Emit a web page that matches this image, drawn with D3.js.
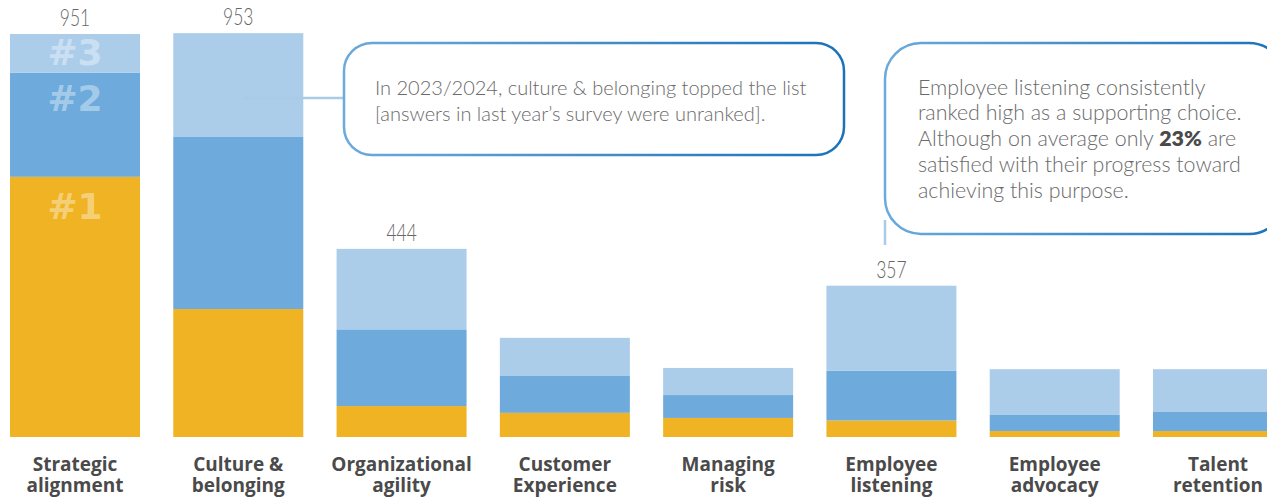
<!DOCTYPE html>
<html>
<head>
<meta charset="utf-8">
<script src="https://cdn.jsdelivr.net/npm/d3@7"></script>
<style>
  html, body { margin: 0; padding: 0; background: #fff; overflow: hidden; }
  svg { display: block; }
</style>
</head>
<body>
<svg id="chart" width="1267" height="499"></svg>
<script>
// Purposes, ranked #1 / #2 / #3 by respondents
const categories = [
  ["Strategic", "alignment"],
  ["Culture &", "belonging"],
  ["Organizational", "agility"],
  ["Customer", "Experience"],
  ["Managing", "risk"],
  ["Employee", "listening"],
  ["Employee", "advocacy"],
  ["Talent", "retention"]
];
const rank1 = [614, 302, 73, 57, 45, 39, 14, 14];
const rank2 = [246, 406, 181, 87, 54, 117, 38, 45];
const rank3 = [91, 245, 190, 90, 64, 201, 108, 101];
// Totals printed above selected bars (null = no label)
const totalLabels = [951, 953, 444, null, null, 357, null, null];
const rankNames = ["#1", "#2", "#3"];

const colors = ["#EFB324", "#6EABDC", "#ABCDEA"];
const textGray = "#6a6a6a";
const labelGray = "#4a4a4a";
const lightFont = "Lato, 'Open Sans', sans-serif";

const svg = d3.select("#chart");
const baseY = 437;

const rows = categories.map((c, i) => ({
  key: i, name: c, r1: rank1[i], r2: rank2[i], r3: rank3[i],
  total: rank1[i] + rank2[i] + rank3[i], label: totalLabels[i]
}));

const x = d3.scaleBand()
  .domain(rows.map(d => d.key))
  .range([10, 1283])
  .paddingInner(0.2039)
  .paddingOuter(0);

const y = d3.scaleLinear()
  .domain([0, 951])
  .range([baseY, baseY - 403]);

const stack = d3.stack().keys(["r1", "r2", "r3"]);
const series = stack(rows);

// Gradient for callout borders
const defs = svg.append("defs");
const grad = defs.append("linearGradient")
  .attr("id", "calloutStroke")
  .attr("x1", "0%").attr("x2", "100%").attr("y1", "0%").attr("y2", "0%");
grad.append("stop").attr("offset", "0%").attr("stop-color", "#6aaadd");
grad.append("stop").attr("offset", "100%").attr("stop-color", "#1b72b8");

// Stacked bars
svg.append("g").selectAll("g")
  .data(series)
  .join("g")
  .attr("fill", (d, i) => colors[i])
  .selectAll("rect")
  .data(d => d)
  .join("rect")
  .attr("x", d => x(d.data.key))
  .attr("width", x.bandwidth())
  .attr("y", d => y(d[1]))
  .attr("height", d => y(d[0]) - y(d[1]));

// Rank markers inside the first bar, each near the top of its segment
const firstStack = series.map(s => s[0]);
svg.append("g").selectAll("text")
  .data(rankNames)
  .join("text")
  .attr("x", x(0) + x.bandwidth() / 2)
  .attr("y", (d, i) => y(firstStack[i][1]) + [42, 38, 31][i])
  .attr("text-anchor", "middle")
  .attr("font-family", "DejaVu Sans, sans-serif")
  .attr("font-weight", "bold")
  .attr("font-size", 36)
  .attr("fill", "#ffffff")
  .attr("fill-opacity", 0.4)
  .text(d => d);

// Totals above bars (light, narrow figures)
svg.append("g").selectAll("g")
  .data(rows.filter(d => d.label !== null))
  .join("g")
  .attr("transform", d => `translate(${x(d.key) + x.bandwidth() / 2},${y(d.label) - 8}) scale(0.76,1)`)
  .append("text")
  .attr("text-anchor", "middle")
  .attr("font-family", lightFont)
  .attr("font-weight", 300)
  .attr("font-size", 23)
  .attr("fill", "#666666")
  .text(d => d.label);

// Category labels (two lines)
const cat = svg.append("g").selectAll("text")
  .data(rows)
  .join("text")
  .attr("text-anchor", "middle")
  .attr("font-family", "'Open Sans', sans-serif")
  .attr("font-weight", "bold")
  .attr("font-size", 19)
  .attr("fill", labelGray);
cat.append("tspan").attr("x", d => x(d.key) + x.bandwidth() / 2).attr("y", 470.5).text(d => d.name[0]);
cat.append("tspan").attr("x", d => x(d.key) + x.bandwidth() / 2).attr("y", 491.5).text(d => d.name[1]);

// Callout 1: culture & belonging
const c1 = svg.append("g");
c1.append("line")
  .attr("x1", x(1) + x.bandwidth() / 2 + 4).attr("x2", 344)
  .attr("y1", 98).attr("y2", 98)
  .attr("stroke", "#a9cbe8").attr("stroke-width", 2.5);
c1.append("rect")
  .attr("x", 344).attr("y", 43).attr("width", 500).attr("height", 112)
  .attr("rx", 28).attr("ry", 28)
  .attr("fill", "#fff")
  .attr("stroke", "url(#calloutStroke)").attr("stroke-width", 2.5);
const t1 = c1.append("text")
  .attr("font-family", lightFont)
  .attr("font-weight", 300)
  .attr("font-size", 20)
  .attr("fill", textGray);
t1.append("tspan").attr("x", 375).attr("y", 94.5).text("In 2023/2024, culture & belonging topped the list");
t1.append("tspan").attr("x", 375).attr("y", 120.5).text("[answers in last year\u2019s survey were unranked].");

// Callout 2: employee listening
const c2 = svg.append("g");
c2.append("line")
  .attr("x1", 885).attr("x2", 885)
  .attr("y1", 220).attr("y2", 245)
  .attr("stroke", "#a9cbe8").attr("stroke-width", 2.5);
c2.append("rect")
  .attr("x", 885).attr("y", 43).attr("width", 400).attr("height", 191)
  .attr("rx", 36).attr("ry", 36)
  .attr("fill", "#fff")
  .attr("stroke", "url(#calloutStroke)").attr("stroke-width", 2.5);
const t2 = c2.append("text")
  .attr("font-family", lightFont)
  .attr("font-weight", 300)
  .attr("font-size", 21.4)
  .attr("fill", textGray);
const lines2 = [
  [{ t: "Employee listening consistently" }],
  [{ t: "ranked high as a supporting choice." }],
  [{ t: "Although on average only " }, { t: "23%", b: true }, { t: " are" }],
  [{ t: "satisfied with their progress toward" }],
  [{ t: "achieving this purpose." }]
];
lines2.forEach((parts, i) => {
  parts.forEach((p, j) => {
    const ts = t2.append("tspan").text(p.t);
    if (j === 0) ts.attr("x", 918).attr("y", 94.5 + i * 25.8);
    if (p.b) ts.attr("font-weight", 800).attr("fill", labelGray);
  });
});
</script>
</body>
</html>
